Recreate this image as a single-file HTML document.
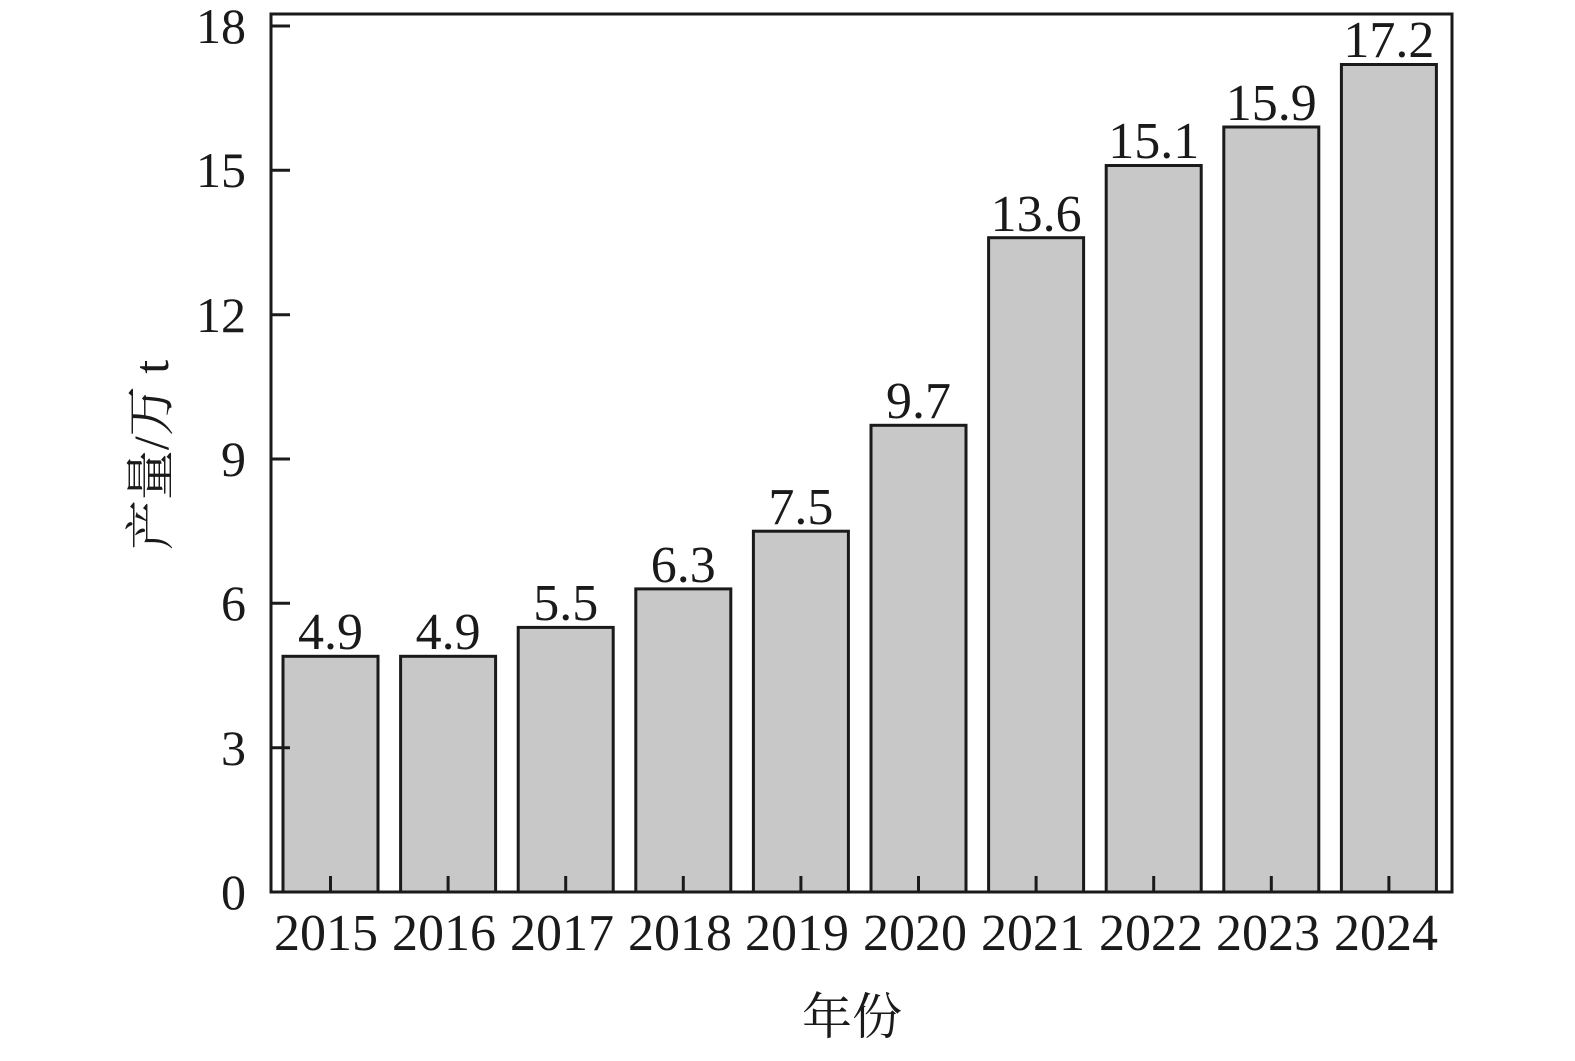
<!DOCTYPE html>
<html><head><meta charset="utf-8"><style>
html,body{margin:0;padding:0;background:#fff;}
</style></head><body>
<svg width="1575" height="1056" viewBox="0 0 1575 1056" xmlns="http://www.w3.org/2000/svg" font-family="'Liberation Serif', 'Noto Serif CJK SC', serif" fill="#1a1a1a">
<g stroke="#1a1a1a" stroke-width="3" fill="#c8c8c8">
<rect x="283" y="656.3" width="95" height="235.7"/>
<rect x="400.6" y="656.3" width="95" height="235.7"/>
<rect x="518.2" y="627.4" width="95" height="264.6"/>
<rect x="635.8" y="588.9" width="95" height="303.1"/>
<rect x="753.4" y="531.2" width="95" height="360.8"/>
<rect x="871" y="425.3" width="95" height="466.7"/>
<rect x="988.6" y="237.7" width="95" height="654.3"/>
<rect x="1106.2" y="165.5" width="95" height="726.5"/>
<rect x="1223.8" y="127" width="95" height="765"/>
<rect x="1341.4" y="64.5" width="95" height="827.5"/>
</g>
<rect x="271" y="14" width="1181" height="878" fill="none" stroke="#1a1a1a" stroke-width="3"/>
<g stroke="#1a1a1a" stroke-width="3">
<line x1="330.5" y1="892" x2="330.5" y2="876"/>
<line x1="448.1" y1="892" x2="448.1" y2="876"/>
<line x1="565.7" y1="892" x2="565.7" y2="876"/>
<line x1="683.3" y1="892" x2="683.3" y2="876"/>
<line x1="800.9" y1="892" x2="800.9" y2="876"/>
<line x1="918.5" y1="892" x2="918.5" y2="876"/>
<line x1="1036.1" y1="892" x2="1036.1" y2="876"/>
<line x1="1153.7" y1="892" x2="1153.7" y2="876"/>
<line x1="1271.3" y1="892" x2="1271.3" y2="876"/>
<line x1="1388.9" y1="892" x2="1388.9" y2="876"/>
<line x1="271" y1="892" x2="290" y2="892"/>
<line x1="271" y1="747.7" x2="290" y2="747.7"/>
<line x1="271" y1="603.3" x2="290" y2="603.3"/>
<line x1="271" y1="459" x2="290" y2="459"/>
<line x1="271" y1="314.7" x2="290" y2="314.7"/>
<line x1="271" y1="170.3" x2="290" y2="170.3"/>
<line x1="271" y1="26" x2="290" y2="26"/>
</g>
<g font-size="52" text-anchor="middle">
<text x="330.5" y="649">4.9</text>
<text x="448.1" y="649">4.9</text>
<text x="565.7" y="620">5.5</text>
<text x="683.3" y="582">6.3</text>
<text x="800.9" y="524">7.5</text>
<text x="918.5" y="418">9.7</text>
<text x="1036.1" y="231">13.6</text>
<text x="1153.7" y="158">15.1</text>
<text x="1271.3" y="120">15.9</text>
<text x="1388.9" y="57">17.2</text>
<text x="326" y="950">2015</text>
<text x="444" y="950">2016</text>
<text x="562" y="950">2017</text>
<text x="680" y="950">2018</text>
<text x="797" y="950">2019</text>
<text x="915" y="950">2020</text>
<text x="1033" y="950">2021</text>
<text x="1151" y="950">2022</text>
<text x="1268" y="950">2023</text>
<text x="1386" y="950">2024</text>
</g>
<g font-size="50" text-anchor="end">
<text x="246" y="909">0</text>
<text x="246" y="765">3</text>
<text x="246" y="620">6</text>
<text x="246" y="476">9</text>
<text x="246" y="332">12</text>
<text x="246" y="187">15</text>
<text x="246" y="43">18</text>
</g>
<text x="852" y="1034" font-size="50" text-anchor="middle">年份</text>
<text transform="translate(168,455) rotate(-90)" font-size="50" text-anchor="middle">产量/万 t</text>
</svg>
</body></html>
